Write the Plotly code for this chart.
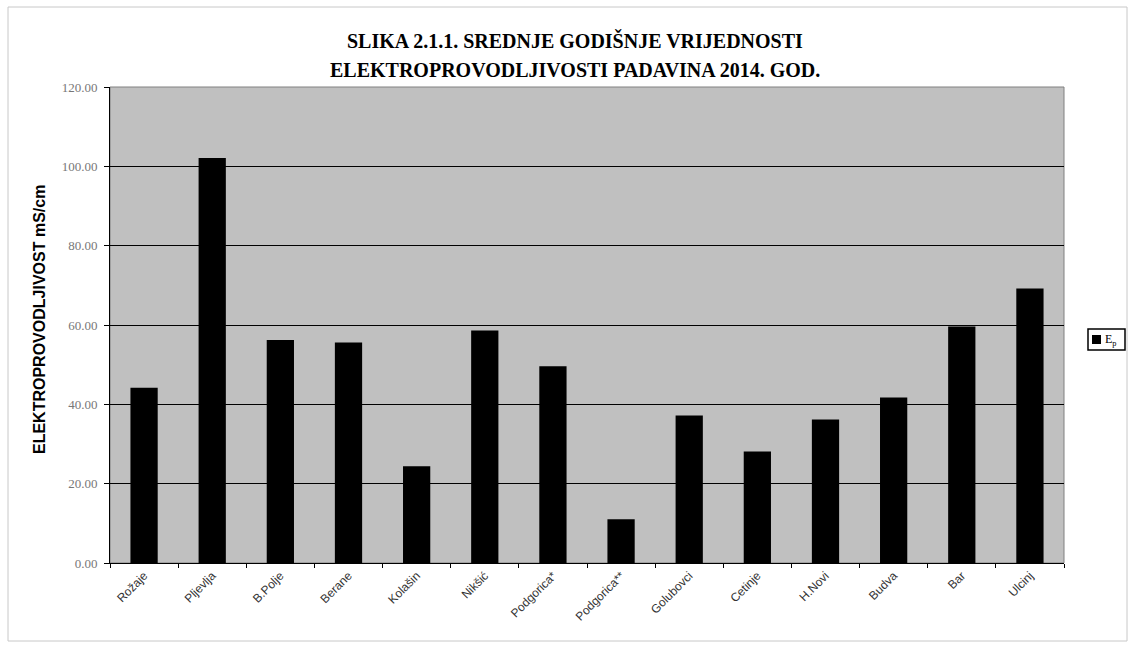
import plotly.graph_objects as go

# Mean annual conductivity of precipitation per station, 2014
stations = ["Rožaje", "Pljevlja", "B.Polje", "Berane", "Kolašin", "Nikšić",
            "Podgorica*", "Podgorica**", "Golubovci", "Cetinje", "H.Novi",
            "Budva", "Bar", "Ulcinj"]
ep_values = [44.2, 102.1, 56.2, 55.6, 24.4, 58.6, 49.6, 11.0, 37.2, 28.1,
             36.2, 41.7, 59.6, 69.2]
y_ticks = [0, 20, 40, 60, 80, 100, 120]

title_lines = ["SLIKA 2.1.1. SREDNJE GODIŠNJE VRIJEDNOSTI",
               "ELEKTROPROVODLJIVOSTI PADAVINA 2014. GOD."]
y_title = "ELEKTROPROVODLJIVOST mS/cm"
series_name = "E<sub>p</sub>"

W, H = 1134, 648
L, R, T, B = 110, 70, 87, 85
pw, ph = W - L - R, H - T - B


def px_x(x):
    return (x - L) / pw


def px_y(y):
    return (H - B - y) / ph


fig = go.Figure()
fig.add_trace(go.Bar(
    x=stations, y=ep_values, name=series_name,
    marker=dict(color="black", line=dict(width=0)),
))

fig.update_layout(
    width=W, height=H,
    margin=dict(l=L, r=R, t=T, b=B, autoexpand=False),
    paper_bgcolor="white",
    plot_bgcolor="#c0c0c0",
    bargap=0.6,
    showlegend=False,
    xaxis=dict(
        type="category", tickson="boundaries", ticks="outside", ticklen=4,
        tickcolor="black", tickangle=-45, showline=True, linecolor="black",
        linewidth=1, showgrid=False,
        tickfont=dict(family="Liberation Sans", size=12, color="#333333"),
    ),
    yaxis=dict(
        range=[0, 120], tickvals=y_ticks,
        ticktext=[f"{v:.2f}" for v in y_ticks],
        ticks="outside", ticklen=5, tickcolor="black", ticklabelstandoff=4,
        showline=True, linecolor="black", linewidth=1,
        showgrid=True, gridcolor="black", gridwidth=1, zeroline=False,
        tickfont=dict(family="Liberation Serif", size=13, color="#777777"),
    ),
)

# Thin grey frame round the plot area
fig.add_shape(type="rect", xref="paper", yref="paper", x0=0, x1=1, y0=0, y1=1,
              line=dict(color="#808080", width=1), layer="below")

# Outer chart frame
fig.add_shape(type="rect", xref="paper", yref="paper",
              x0=px_x(8), x1=px_x(1127), y0=px_y(641), y1=px_y(7),
              line=dict(color="#c8c8c8", width=1))

# Compact legend box: black key square and series name
fig.add_shape(type="rect", xref="paper", yref="paper",
              x0=px_x(1088), x1=px_x(1125), y0=px_y(350), y1=px_y(329),
              line=dict(color="black", width=1.5), fillcolor="white")
fig.add_shape(type="rect", xref="paper", yref="paper",
              x0=px_x(1092), x1=px_x(1101), y0=px_y(344), y1=px_y(335),
              line=dict(width=0), fillcolor="black")
fig.add_annotation(
    text=series_name, xref="paper", yref="paper",
    x=px_x(1103), y=px_y(340), xanchor="left", yanchor="middle",
    showarrow=False,
    font=dict(family="Liberation Serif", size=12, color="black"),
)

# Two-line bold title
for i, line in enumerate(title_lines):
    fig.add_annotation(
        text=f"<b>{line}</b>", xref="paper", yref="paper",
        x=px_x(575), y=px_y(41 + 29 * i), xanchor="center", yanchor="middle",
        showarrow=False,
        font=dict(family="Liberation Serif", size=20, color="black"),
    )

# Rotated value-axis title
fig.add_annotation(
    text=f"<b>{y_title}</b>", xref="paper", yref="paper",
    x=px_x(39), y=px_y(320), xanchor="center", yanchor="middle",
    textangle=-90, showarrow=False,
    font=dict(family="Liberation Sans", size=16, color="black"),
)

fig.write_html("out.html")
